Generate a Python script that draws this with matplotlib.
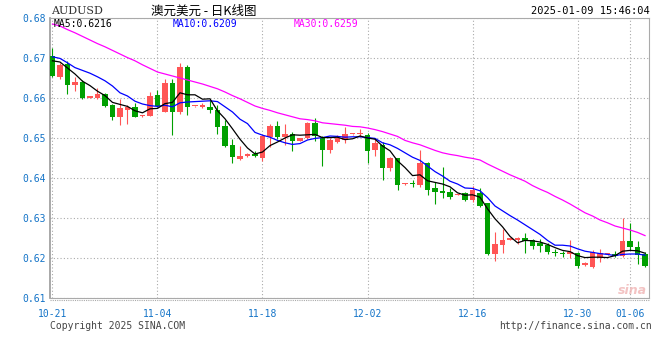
import matplotlib
matplotlib.use("Agg")
import matplotlib.pyplot as plt
import numpy as np

# AUDUSD daily K-line, 2024-10-21 .. 2025-01-09
opens = [0.6705, 0.6652, 0.6686, 0.6633, 0.6641, 0.6601, 0.6599, 0.6610, 0.6583, 0.6553,
         0.6570, 0.6577, 0.6554, 0.6555, 0.6608, 0.6566, 0.6637, 0.6566, 0.6678, 0.6579,
         0.6578, 0.6578, 0.6570, 0.6530, 0.6483, 0.6447, 0.6455, 0.6459, 0.6450, 0.6503,
         0.6530, 0.6502, 0.6510, 0.6493, 0.6499, 0.6537, 0.6501, 0.6470, 0.6491, 0.6494,
         0.6509, 0.6509, 0.6508, 0.6470, 0.6483, 0.6426, 0.6449, 0.6384, 0.6388, 0.6383,
         0.6438, 0.6375, 0.6368, 0.6366, 0.6358, 0.6362, 0.6345, 0.6363, 0.6337, 0.6210,
         0.6233, 0.6246, 0.6245, 0.6250, 0.6246, 0.6238, 0.6233, 0.6216, 0.6213, 0.6209,
         0.6213, 0.6183, 0.6178, 0.6199, 0.6209, 0.6211, 0.6206, 0.6243, 0.6228, 0.6211]
highs = [0.6724, 0.6688, 0.6693, 0.6653, 0.6645, 0.6603, 0.6624, 0.6613, 0.6585, 0.6597,
         0.6583, 0.6587, 0.6557, 0.6616, 0.6620, 0.6647, 0.6647, 0.6688, 0.6683, 0.6581,
         0.6587, 0.6595, 0.6583, 0.6545, 0.6498, 0.6480, 0.6463, 0.6468, 0.6508, 0.6534,
         0.6543, 0.6534, 0.6516, 0.6500, 0.6539, 0.6549, 0.6506, 0.6500, 0.6508, 0.6528,
         0.6511, 0.6522, 0.6513, 0.6498, 0.6490, 0.6453, 0.6451, 0.6387, 0.6394, 0.6470,
         0.6441, 0.6390, 0.6428, 0.6376, 0.6360, 0.6366, 0.6381, 0.6374, 0.6338, 0.6266,
         0.6272, 0.6248, 0.6253, 0.6263, 0.6247, 0.6248, 0.6237, 0.6223, 0.6218, 0.6245,
         0.6216, 0.6189, 0.6220, 0.6223, 0.6211, 0.6218, 0.6301, 0.6287, 0.6243, 0.6216]
lows = [0.6652, 0.6647, 0.6610, 0.6618, 0.6597, 0.6600, 0.6597, 0.6578, 0.6545, 0.6532,
        0.6535, 0.6552, 0.6553, 0.6554, 0.6578, 0.6564, 0.6508, 0.6560, 0.6558, 0.6578,
        0.6574, 0.6562, 0.6510, 0.6478, 0.6438, 0.6445, 0.6452, 0.6453, 0.6443, 0.6478,
        0.6497, 0.6483, 0.6468, 0.6492, 0.6498, 0.6493, 0.6431, 0.6463, 0.6488, 0.6487,
        0.6508, 0.6503, 0.6438, 0.6456, 0.6395, 0.6417, 0.6369, 0.6383, 0.6378, 0.6377,
        0.6358, 0.6334, 0.6350, 0.6348, 0.6357, 0.6343, 0.6339, 0.6328, 0.6208, 0.6193,
        0.6212, 0.6245, 0.6235, 0.6213, 0.6222, 0.6216, 0.6210, 0.6205, 0.6203, 0.6200,
        0.6174, 0.6181, 0.6174, 0.6190, 0.6208, 0.6203, 0.6203, 0.6220, 0.6184, 0.6178]
closes = [0.6655, 0.6683, 0.6633, 0.6641, 0.6599, 0.6602, 0.6610, 0.6580, 0.6553, 0.6574,
          0.6577, 0.6553, 0.6555, 0.6605, 0.6580, 0.6637, 0.6566, 0.6678, 0.6578, 0.6580,
          0.6583, 0.6570, 0.6528, 0.6480, 0.6452, 0.6456, 0.6459, 0.6455, 0.6505, 0.6530,
          0.6502, 0.6510, 0.6493, 0.6499, 0.6537, 0.6504, 0.6471, 0.6495, 0.6501, 0.6511,
          0.6510, 0.6510, 0.6468, 0.6487, 0.6426, 0.6450, 0.6383, 0.6386, 0.6385, 0.6438,
          0.6371, 0.6366, 0.6363, 0.6353, 0.6359, 0.6345, 0.6370, 0.6331, 0.6210, 0.6235,
          0.6245, 0.6247, 0.6251, 0.6242, 0.6230, 0.6230, 0.6216, 0.6212, 0.6209, 0.6215,
          0.6180, 0.6188, 0.6216, 0.6212, 0.6210, 0.6204, 0.6243, 0.6227, 0.6208, 0.6179]

ma5 = [0.6693, 0.6690, 0.6675, 0.6660, 0.6642, 0.6631, 0.6617, 0.6606, 0.6589, 0.6584,
       0.6579, 0.6568, 0.6563, 0.6573, 0.6574, 0.6586, 0.6589, 0.6613, 0.6608, 0.6608,
       0.6597, 0.6598, 0.6568, 0.6548, 0.6523, 0.6497, 0.6475, 0.6460, 0.6465, 0.6481,
       0.6490, 0.6500, 0.6508, 0.6507, 0.6508, 0.6509, 0.6501, 0.6501, 0.6502, 0.6496,
       0.6498, 0.6505, 0.6500, 0.6497, 0.6480, 0.6468, 0.6443, 0.6426, 0.6406, 0.6408,
       0.6393, 0.6389, 0.6385, 0.6378, 0.6363, 0.6357, 0.6358, 0.6352, 0.6323, 0.6298,
       0.6278, 0.6254, 0.6238, 0.6244, 0.6243, 0.6240, 0.6234, 0.6226, 0.6219, 0.6216,
       0.6206, 0.6201, 0.6202, 0.6202, 0.6201, 0.6206, 0.6217, 0.6219, 0.6218, 0.6212]
ma10 = [0.6703, 0.6699, 0.6688, 0.6676, 0.6669, 0.6662, 0.6653, 0.6643, 0.6630, 0.6613,
        0.6605, 0.6592, 0.6585, 0.6581, 0.6579, 0.6582, 0.6578, 0.6588, 0.6590, 0.6591,
        0.6592, 0.6593, 0.6591, 0.6578, 0.6565, 0.6547, 0.6536, 0.6514, 0.6507, 0.6502,
        0.6494, 0.6488, 0.6484, 0.6486, 0.6495, 0.6499, 0.6501, 0.6505, 0.6504, 0.6502,
        0.6503, 0.6503, 0.6501, 0.6499, 0.6488, 0.6483, 0.6474, 0.6463, 0.6452, 0.6444,
        0.6430, 0.6416, 0.6405, 0.6392, 0.6385, 0.6375, 0.6374, 0.6368, 0.6351, 0.6330,
        0.6318, 0.6306, 0.6295, 0.6283, 0.6271, 0.6259, 0.6244, 0.6232, 0.6232, 0.6230,
        0.6223, 0.6217, 0.6214, 0.6211, 0.6209, 0.6206, 0.6209, 0.6210, 0.6210, 0.6207]
ma30 = [0.6785, 0.6780, 0.6771, 0.6763, 0.6754, 0.6745, 0.6736, 0.6728, 0.6719, 0.6710,
        0.6701, 0.6693, 0.6683, 0.6674, 0.6665, 0.6660, 0.6655, 0.6650, 0.6645, 0.6640,
        0.6635, 0.6629, 0.6623, 0.6615, 0.6606, 0.6598, 0.6589, 0.6580, 0.6574, 0.6569,
        0.6563, 0.6558, 0.6553, 0.6548, 0.6546, 0.6543, 0.6538, 0.6536, 0.6534, 0.6532,
        0.6529, 0.6528, 0.6525, 0.6521, 0.6516, 0.6510, 0.6504, 0.6494, 0.6488, 0.6483,
        0.6476, 0.6469, 0.6463, 0.6459, 0.6456, 0.6452, 0.6449, 0.6445, 0.6435, 0.6426,
        0.6417, 0.6408, 0.6400, 0.6392, 0.6381, 0.6372, 0.6364, 0.6354, 0.6345, 0.6335,
        0.6324, 0.6313, 0.6305, 0.6295, 0.6288, 0.6280, 0.6275, 0.6270, 0.6264, 0.6256]

tick_idx = [0, 14, 28, 42, 56, 70, 77]
tick_labels = ["10-21", "11-04", "11-18", "12-02", "12-16", "12-30", "01-06"]
y_ticks = [0.61, 0.62, 0.63, 0.64, 0.65, 0.66, 0.67, 0.68]

UP = "#ff5555"
DOWN = "#00a000"
LBL = "#1474c8"
MONO = "DejaVu Sans Mono"

W, H = 660, 360
fig = plt.figure(figsize=(6.6, 3.6), dpi=100)
ax = fig.add_axes([50 / W, 62 / H, 599 / W, 280 / H])

o = np.array(opens); c = np.array(closes)
x = np.arange(len(o))
cols = [UP if cc >= oo else DOWN for oo, cc in zip(o, c)]

ax.vlines(x, lows, highs, colors=cols, linewidth=0.8, zorder=3)
body_h = np.maximum(np.abs(c - o), 0.0003)
ax.bar(x, body_h, bottom=np.minimum(o, c), width=0.72, color=cols, linewidth=0, zorder=4)

ax.plot(x, ma30, color="#ff00ff", lw=0.9, zorder=5)
ax.plot(x, ma10, color="#0000ff", lw=0.9, zorder=5)
ax.plot(x, ma5, color="black", lw=0.9, zorder=6)

ax.set_xlim(-0.33, 79.53)
ax.set_ylim(0.61, 0.68)
ax.set_yticks(y_ticks)
ax.set_yticklabels(["%.2f" % v for v in y_ticks], family=MONO, fontsize=7, color=LBL)
ax.set_xticks(tick_idx)
ax.set_xticklabels(tick_labels, family=MONO, fontsize=7, color=LBL)
ax.tick_params(length=0, pad=3)
ax.tick_params(axis="x", pad=8)
ax.grid(True, color="#aaaaaa", linestyle=(0, (1, 2)), linewidth=0.8)
ax.set_axisbelow(True)
for s in ["top", "right", "bottom"]:
    ax.spines[s].set_color("#aaaaaa")
    ax.spines[s].set_linewidth(0.8)
ax.spines["left"].set_color("#999999")
ax.spines["left"].set_linewidth(1.2)
# dotted rule just below the axis
ax.plot([-0.33, 79.53], [0.6095, 0.6095], color="#aaaaaa", lw=0.8,
        linestyle=(0, (1, 1)), clip_on=False)

def ftext(px, py, s, **kw):
    fig.text(px / W, 1 - py / H, s, **kw)

ftext(51, 11, "AUDUSD", family="DejaVu Serif", fontsize=8, color="#333333", va="center")
ftext(204, 11, "澳元美元 - 日K线图", family=["Noto Sans CJK SC", "DejaVu Sans"],
      fontsize=9, color="black", ha="center", va="center")
ftext(650, 11, "2025-01-09 15:46:04", family=MONO, fontsize=7.5, color="black",
      ha="right", va="center")

ftext(54, 24, "MA5:0.6216", family=MONO, fontsize=7, color="black", va="center")
ftext(173, 24, "MA10:0.6209", family=MONO, fontsize=7, color="#0000ff", va="center")
ftext(294, 24, "MA30:0.6259", family=MONO, fontsize=7, color="#ff00ff", va="center")

ftext(50, 326, "Copyright 2025 SINA.COM", family=MONO, fontsize=7, color="#444444", va="center")
ftext(652, 326, "http://finance.sina.com.cn", family=MONO, fontsize=7, color="#444444",
      ha="right", va="center")
ftext(632, 290, "sina", family="DejaVu Sans", fontsize=9, fontweight="bold",
      fontstyle="italic", color="#f0b4b4", ha="center", va="center", alpha=0.8)

fig.savefig("out.png", dpi=100)
